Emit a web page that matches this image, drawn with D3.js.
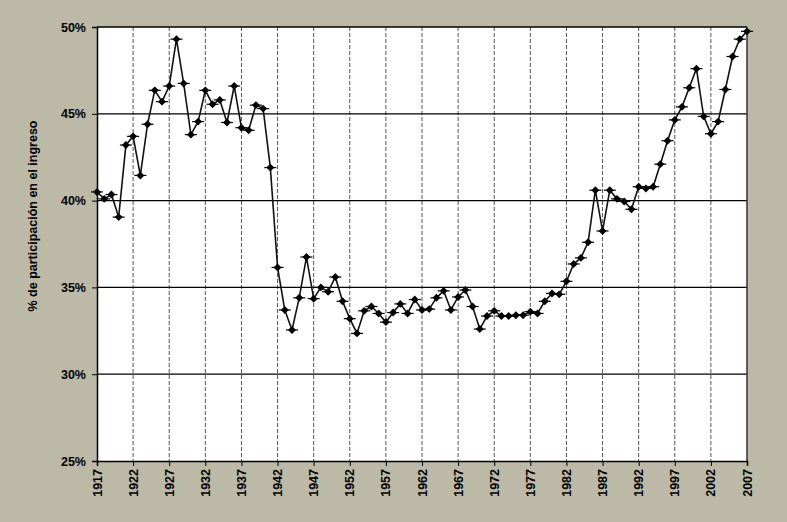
<!DOCTYPE html>
<html>
<head>
<meta charset="utf-8">
<script src="https://cdn.jsdelivr.net/npm/d3@7"></script>
<style>
  body { margin: 0; background: #bdb9a7; }
  svg { display: block; font-family: "Liberation Sans", Arial, sans-serif; }
</style>
</head>
<body>
<svg id="chart"></svg>
<script>
const width = 787, height = 522

// share of income (%) by year, 1917-2007
const years = d3.range(1917, 2008)
const shares = [
  40.5, 40.1, 40.35, 39.05, 43.2, 43.7, 41.45, 44.4, 46.35, 45.7,
  46.6, 49.3, 46.75, 43.8, 44.55, 46.35, 45.55, 45.8, 44.5, 46.6,
  44.2, 44.05, 45.5, 45.3, 41.9, 36.15, 33.7, 32.55, 34.4, 36.75,
  34.35, 35.0, 34.75, 35.6, 34.2, 33.2, 32.35, 33.65, 33.9, 33.5,
  33.0, 33.55, 34.05, 33.5, 34.3, 33.7, 33.75, 34.4, 34.8, 33.7,
  34.45, 34.85, 33.9, 32.6, 33.35, 33.65, 33.35, 33.35, 33.4, 33.4,
  33.6, 33.5, 34.2, 34.65, 34.6, 35.35, 36.35, 36.7, 37.6, 40.6,
  38.25, 40.6, 40.1, 39.95, 39.5, 40.8, 40.7, 40.8, 42.1, 43.45,
  44.65, 45.4, 46.5, 47.6, 44.85, 43.85, 44.55, 46.4, 48.3, 49.3,
  49.75
]
const yTicks = [25, 30, 35, 40, 45, 50]
const xTicks = d3.range(1917, 2008, 5)
const yTitle = '% de participación en el ingreso'

const data = years.map((y, i) => ({ year: y, share: shares[i] }))

const margin = { top: 27, right: 40, bottom: 61, left: 97 }
const innerWidth = width - margin.left - margin.right
const innerHeight = height - margin.top - margin.bottom

const svg = d3.select('svg#chart')
  .attr('width', width)
  .attr('height', height)

const xScale = d3.scaleLinear().domain([1917, 2007]).range([0, innerWidth])
const yScale = d3.scaleLinear().domain([25, 50]).range([innerHeight, 0])

const g = svg.append('g')
  .attr('transform', `translate(${margin.left}, ${margin.top})`)

g.append('rect')
  .attr('width', innerWidth)
  .attr('height', innerHeight)
  .attr('fill', '#ffffff')

// vertical dashed gridlines
g.selectAll('line.vgrid').data(xTicks.slice(1, -1))
  .enter().append('line')
    .attr('class', 'vgrid')
    .attr('x1', d => xScale(d)).attr('x2', d => xScale(d))
    .attr('y1', 0).attr('y2', innerHeight)
    .attr('stroke', '#555')
    .attr('stroke-width', 1)
    .attr('stroke-dasharray', '4,2')

// horizontal solid gridlines
g.selectAll('line.hgrid').data(yTicks.slice(1))
  .enter().append('line')
    .attr('class', 'hgrid')
    .attr('x1', 0).attr('x2', innerWidth)
    .attr('y1', d => yScale(d)).attr('y2', d => yScale(d))
    .attr('stroke', '#000')
    .attr('stroke-width', 1.3)

// right border
g.append('line')
  .attr('x1', innerWidth).attr('x2', innerWidth)
  .attr('y1', 0).attr('y2', innerHeight)
  .attr('stroke', '#333').attr('stroke-width', 1.5)

const yAxis = g.append('g')
  .call(d3.axisLeft(yScale).tickValues(yTicks).tickFormat(d => d + '%').tickSize(5).tickPadding(6))
yAxis.select('.domain').attr('stroke', '#000').attr('stroke-width', 1.5)
yAxis.selectAll('text')
  .attr('font-size', 12.5).attr('font-weight', 'bold').attr('fill', '#000')
  .attr('font-family', '"Liberation Sans", Arial, sans-serif')

const xAxis = g.append('g')
  .attr('transform', `translate(0, ${innerHeight})`)
  .call(d3.axisBottom(xScale).tickValues(xTicks).tickFormat(d3.format('d')).tickSize(5))
xAxis.select('.domain').attr('stroke', '#000').attr('stroke-width', 1.5)
xAxis.selectAll('text').remove()

// rotated year labels
g.selectAll('text.xlabel').data(xTicks)
  .enter().append('text')
    .attr('class', 'xlabel')
    .attr('transform', d => `translate(${xScale(d) + 4.5}, ${innerHeight + 8}) rotate(-90)`)
    .attr('text-anchor', 'end')
    .attr('font-size', 12.5).attr('font-weight', 'bold').attr('fill', '#000')
    .text(d => d)

// y axis title
svg.append('text')
  .attr('transform', `translate(37, ${margin.top + innerHeight / 2 - 28}) rotate(-90)`)
  .attr('text-anchor', 'middle')
  .attr('font-size', 12.5).attr('font-weight', 'bold')
  .text(yTitle)

// line
const line = d3.line()
  .x(d => xScale(d.year))
  .y(d => yScale(d.share))

g.append('path').datum(data)
  .attr('fill', 'none')
  .attr('stroke', '#111')
  .attr('stroke-width', 1.6)
  .attr('d', line)

// markers: diamond with horizontal bar
const markers = g.selectAll('g.marker').data(data)
  .enter().append('g')
    .attr('class', 'marker')
    .attr('transform', d => `translate(${xScale(d.year)}, ${yScale(d.share)})`)
markers.append('line')
  .attr('x1', -6).attr('x2', 6)
  .attr('stroke', '#000').attr('stroke-width', 1.2)
markers.append('path')
  .attr('d', d3.symbol().type(d3.symbolDiamond2).size(40))
  .attr('fill', '#000')
</script>
</body>
</html>
